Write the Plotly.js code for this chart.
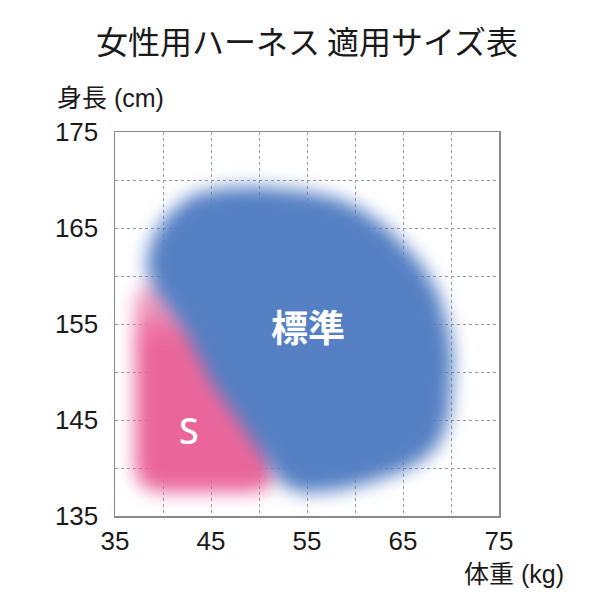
<!DOCTYPE html>
<html>
<head>
<meta charset="utf-8">
<script src="https://cdn.plot.ly/plotly-3.0.1.min.js"></script>
<style>
html,body{margin:0;padding:0;background:#fff;}
#chart{width:614px;height:614px;}
</style>
</head>
<body>
<div id="chart"></div>
<script>
// ---- data ----
const xTicks = [35, 45, 55, 65, 75];
const yTicks = [135, 145, 155, 165, 175];
const sizeNames = ['S', '標準'];

// outline of the "S" zone (weight kg, height cm)
const pinkX = [37.1, 37.6, 39.5, 49.5, 51.0, 51.7, 51.7, 51.0, 49.5, 39.5, 37.6, 37.1];
const pinkY = [140.0, 138.3, 137.5, 137.5, 138.0, 139.5, 157.5, 159.0, 159.5, 159.5, 159.0, 157.5];

// outline of the "標準" zone
const blueX = [46.3, 50.0, 54.3, 57.8, 60.6, 63.5, 66.9, 68.8, 69.9, 70.2, 69.9, 69.0, 67.2, 64.8, 61.0, 57.7, 54.3, 52.2, 49.8, 47.3, 44.9, 42.3, 39.2, 38.2, 38.8, 40.5, 43.0];
const blueY = [169.2, 169.3, 168.9, 168.2, 167.0, 164.9, 161.3, 158.0, 154.0, 150.9, 145.8, 142.8, 140.9, 139.6, 138.3, 137.6, 137.4, 138.5, 142.2, 145.8, 149.2, 154.4, 158.4, 160.9, 163.8, 166.4, 168.4];

const labelX = [42.75, 55.15];
const labelY = [143.9, 154.8];

// ---- styles ----
const PINK = '#EA669A';
const PINK_PALE = '#F5BDD3';
const BLUE = '#5580C3';
const LATIN = 'Liberation Sans, Noto Sans CJK JP, sans-serif';
const CJK = 'Noto Sans CJK JP, sans-serif';

const traces = [
  {x: pinkX, y: pinkY, type: 'scatter', mode: 'lines', fill: 'toself',
   fillcolor: PINK,
   fillgradient: {type: 'vertical', colorscale: [[0, PINK], [0.72, PINK], [1, PINK_PALE]]},
   line: {width: 0, color: PINK}, hoverinfo: 'skip', showlegend: false},
  {x: blueX, y: blueY, type: 'scatter', mode: 'lines', fill: 'toself',
   fillcolor: BLUE, line: {width: 0, color: BLUE}, hoverinfo: 'skip', showlegend: false}
];

const gridStyle = {showgrid: true, gridcolor: '#9a9a9a', gridwidth: 1, griddash: 'dot'};

const layout = {
  width: 614, height: 614,
  margin: {l: 114.5, r: 115, t: 132, b: 98},
  paper_bgcolor: '#ffffff', plot_bgcolor: '#ffffff',
  showlegend: false,
  title: {text: '女性用ハーネス 適用サイズ表', x: 0.5, xanchor: 'center', y: 0.93, yanchor: 'middle',
          font: {family: CJK, size: 32, color: '#1a1a1a'}},
  xaxis: Object.assign({
    range: [35, 75], tickvals: xTicks, ticktext: xTicks.map(String),
    ticks: 'outside', ticklen: 1, tickcolor: 'rgba(0,0,0,0)',
    tickfont: {family: LATIN, size: 26, color: '#1a1a1a'},
    showline: true, mirror: true, linecolor: '#8a8a8a', linewidth: 1.5,
    zeroline: false, fixedrange: true,
    minor: {dtick: 5, tick0: 35, showgrid: true, gridcolor: '#9a9a9a', gridwidth: 1, griddash: 'dot'}
  }, gridStyle),
  yaxis: Object.assign({
    range: [135, 175], tickvals: yTicks, ticktext: yTicks.map(String),
    ticks: 'outside', ticklen: 10, tickcolor: 'rgba(0,0,0,0)',
    tickfont: {family: LATIN, size: 26, color: '#1a1a1a'},
    showline: true, mirror: true, linecolor: '#8a8a8a', linewidth: 1.5,
    zeroline: false, fixedrange: true,
    minor: {dtick: 5, tick0: 135, showgrid: true, gridcolor: '#9a9a9a', gridwidth: 1, griddash: 'dot'}
  }, gridStyle),
  annotations: [
    {text: '身長 (cm)', xref: 'paper', yref: 'paper', x: -0.155, y: 1.089,
     xanchor: 'left', yanchor: 'middle', showarrow: false,
     font: {family: LATIN, size: 25, color: '#1a1a1a'}},
    {text: '体重 (kg)', xref: 'paper', yref: 'paper', x: 1.174, y: -0.151,
     xanchor: 'right', yanchor: 'middle', showarrow: false,
     font: {family: LATIN, size: 25, color: '#1a1a1a'}},
    {text: sizeNames[0], x: labelX[0], y: labelY[0], xref: 'x', yref: 'y', showarrow: false,
     font: {family: 'Noto Sans, sans-serif', size: 36, weight: 500, color: '#ffffff'}},
    {text: sizeNames[1], x: labelX[1], y: labelY[1], xref: 'x', yref: 'y', showarrow: false,
     font: {family: CJK, size: 37, weight: 600, color: '#ffffff'}}
  ]
};

Plotly.newPlot('chart', traces, layout, {staticPlot: true, displayModeBar: false}).then(function (gd) {
  const svg = gd.querySelector('.main-svg');
  const ns = 'http://www.w3.org/2000/svg';
  let defs = svg.querySelector('defs');
  if (!defs) { defs = document.createElementNS(ns, 'defs'); svg.insertBefore(defs, svg.firstChild); }
  const filt = document.createElementNS(ns, 'filter');
  filt.setAttribute('id', 'softEdge');
  filt.setAttribute('x', '-30%'); filt.setAttribute('y', '-30%');
  filt.setAttribute('width', '160%'); filt.setAttribute('height', '160%');
  const blur = document.createElementNS(ns, 'feGaussianBlur');
  blur.setAttribute('stdDeviation', '9');
  filt.appendChild(blur);
  defs.appendChild(filt);
  gd.querySelectorAll('.scatterlayer .trace').forEach(function (t) {
    t.setAttribute('filter', 'url(#softEdge)');
  });
});
</script>
</body>
</html>
